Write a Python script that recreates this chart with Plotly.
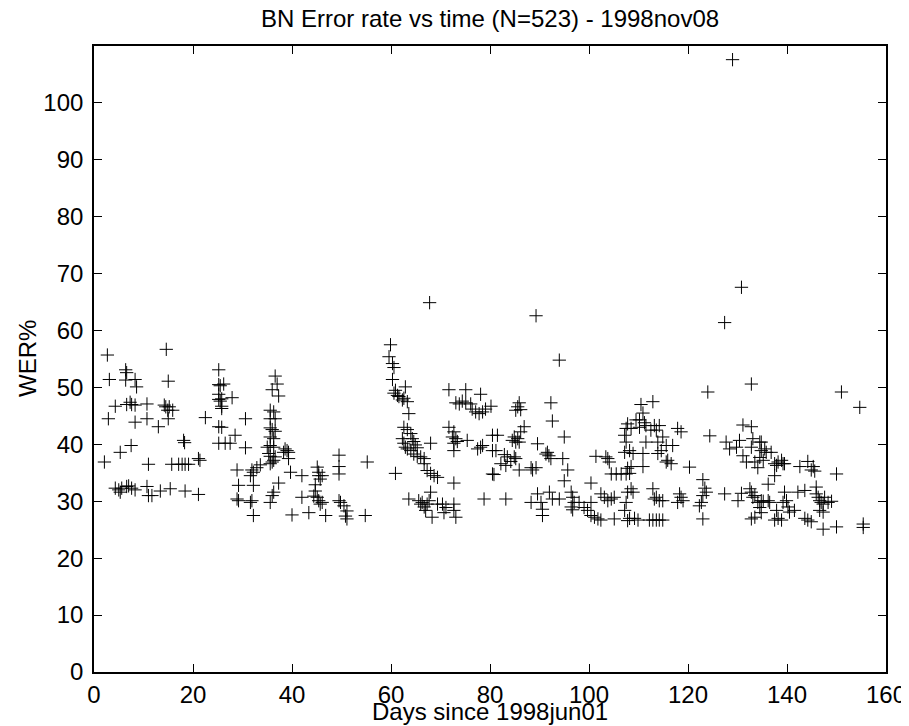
import plotly.graph_objects as go

pts = [
# 0-25 days
(2.7,55.7),(14.6,56.7),(6.4,53.1),(6.6,52.6),(3.1,51.4),(6.4,51.3),(8.3,51.4),(8.6,50.1),(15.0,51.1),
(4.3,46.7),(6.6,47.0),(7.3,47.4),(7.6,47.0),(8.3,46.9),(10.7,47.1),(14.5,46.6),(15.2,46.6),(14.9,46.0),(15.9,46.0),(14.2,46.9),
(2.9,44.5),(8.3,43.9),(10.7,44.5),(13.0,43.1),(15.0,44.5),(22.5,44.7),
(25.2,53.1),(25.2,50.5),(25.5,50.3),(25.2,48.8),(25.5,47.6),(25.8,46.7),(25.2,47.9),(25.2,43.1),(25.2,40.2),
(5.3,38.6),(7.5,39.8),(2.1,36.9),(11.0,36.5),(18.1,40.7),(18.3,40.3),
(15.7,36.5),(17.1,36.5),(17.8,36.5),(18.4,36.5),(19.1,36.5),(21.1,37.5),(21.4,37.2),
(4.3,32.3),(5.0,32.0),(5.6,32.3),(6.6,32.6),(7.0,32.7),(7.6,32.3),(8.3,32.0),(5.3,31.6),
(10.7,32.6),(11.0,31.0),(11.7,31.0),(13.4,31.8),(15.4,32.2),(18.4,31.8),(21.1,31.2),
# 25-52 days
(26.2,50.6),(27.9,48.2),(25.8,48.0),(25.8,46.3),(30.6,44.5),(25.8,43.0),(28.5,41.6),(26.5,40.2),(27.5,40.2),(30.6,39.4),
(36.6,52.0),(37.0,50.6),(36.0,49.6),(37.3,48.5),(35.6,46.0),(36.3,45.7),(35.6,44.5),(36.6,44.5),(35.6,42.9),(36.0,42.6),(36.6,42.3),(35.6,41.3),(36.3,41.0),
(35.0,39.5),(35.6,39.8),(36.3,39.5),(35.3,38.4),(35.6,37.9),(36.6,37.8),(38.6,39.2),(39.0,38.9),(39.3,38.6),(38.3,38.6),(39.3,37.5),
(35.6,36.6),(36.0,36.9),(36.3,37.2),(39.7,35.1),(28.9,35.5),(31.9,35.5),(32.2,35.1),(32.9,35.9),(33.6,36.4),(31.6,34.5),
(42.0,34.5),(45.1,36.0),(45.4,35.1),(45.4,34.5),(45.7,33.9),(46.1,34.5),(49.5,38.1),(49.5,36.1),(49.5,34.8),
(29.2,32.8),(32.2,32.8),(37.3,33.2),(28.9,30.4),(29.2,30.1),(31.6,29.8),(31.9,30.1),(36.3,31.6),(36.0,31.0),(35.6,29.8),
(42.0,30.7),(44.7,31.8),(45.1,30.7),(45.4,30.1),(45.7,29.5),(44.4,30.9),(46.1,29.8),(44.7,32.9),
(49.5,30.1),(49.8,29.8),(50.5,29.2),(51.1,28.3),(50.8,27.4),(32.2,27.5),(40.0,27.6),(43.4,28.0),(46.8,27.5),(51.1,26.9),
# 54-81 days
(55.2,36.9),(54.8,27.5),(59.9,57.5),(59.6,55.4),(60.3,54.2),(60.6,53.5),(60.3,51.4),(60.9,49.5),(60.6,49.0),(61.3,48.6),(61.6,48.4),(62.6,48.1),(63.3,47.5),(62.3,47.8),(62.9,50.1),(63.6,45.4),(60.9,34.9),
(62.6,43.0),(63.3,42.6),(64.0,41.9),(62.3,41.0),(62.6,40.2),(62.9,39.5),(63.3,39.2),(64.3,41.0),(64.6,40.5),(64.9,39.9),(65.3,39.4),(64.0,38.9),(64.6,38.3),(65.3,37.9),(66.0,37.8),(66.7,37.5),(66.7,36.6),(68.0,40.2),
(67.3,35.4),(68.0,34.9),(68.7,34.5),(69.4,34.2),(72.7,33.2),
(63.6,30.4),(65.6,30.1),(66.0,29.5),(66.3,29.8),(66.7,29.0),(67.0,28.4),(67.3,29.5),(67.7,30.1),(68.0,31.6),
(68.3,27.2),(69.4,29.5),(70.4,29.5),(70.7,28.0),(71.1,28.9),(72.7,29.5),(72.7,28.4),(73.1,27.2),
(71.7,49.6),(75.1,49.6),(78.1,48.8),(73.1,47.3),(73.8,47.1),(74.4,47.6),(75.1,47.3),(76.1,47.1),(76.4,46.2),(77.1,45.7),(77.8,45.4),(78.5,45.7),(79.1,46.2),
(71.7,43.0),(72.7,42.2),(72.4,41.3),(73.1,41.0),(72.7,40.2),(73.4,40.5),(75.4,40.7),(72.7,38.9),(77.5,39.2),(78.1,39.5),(78.5,39.8),(78.8,30.4),(80.5,38.9),(80.5,34.8),(80.5,41.6),
(67.8,64.9),
# 80-108 days
(89.3,62.6),(94.0,54.8),(80.2,46.7),(85.9,47.3),(85.6,46.6),(86.2,46.1),(85.2,46.0),(92.3,47.3),(92.6,44.1),(86.9,43.1),(86.2,42.2),(81.5,41.6),
(84.9,41.3),(85.6,41.0),(85.9,40.4),(85.2,40.4),(84.5,40.7),(89.6,40.1),(95.0,41.3),(81.2,38.9),
(82.9,38.2),(83.5,37.8),(84.9,37.8),(85.2,37.5),(82.2,36.6),(83.2,36.3),(84.2,37.0),
(91.6,38.6),(91.9,38.0),(92.3,37.5),(91.3,38.3),(94.7,37.5),(85.9,35.5),(88.3,35.9),(88.6,35.5),(89.3,35.9),(95.7,35.5),(95.0,33.6),(80.8,34.7),
(83.2,30.4),(88.3,29.8),(89.6,31.3),(90.3,29.8),(90.6,28.6),(90.6,27.5),(92.0,31.6),(92.6,30.4),(94.0,30.4),
(96.4,31.6),(96.7,30.7),(97.0,29.8),(96.4,29.0),(96.7,28.5),(98.0,29.8),(99.0,28.9),(99.7,28.4),(100.4,27.5),(100.4,29.8),(100.4,33.2),(101.4,37.9),
(102.4,31.3),(103.1,30.7),(103.8,30.1),(104.5,30.4),(105.1,30.7),(101.1,27.2),(101.8,26.9),(102.4,26.7),(105.1,26.9),
(103.4,37.8),(103.8,37.5),(104.1,36.9),(104.5,34.8),(105.5,34.8),(106.5,34.8),(107.5,34.8),(107.2,41.6),(107.5,42.8),(107.8,43.6),(107.2,38.6),(107.8,31.6),(107.5,29.8),(107.2,28.4),(107.8,26.6),
# 107-135 days
(127.4,61.4),(132.8,50.6),(124.0,49.2),(112.9,47.5),(110.5,47.0),(110.9,45.5),(110.2,44.3),(111.2,43.8),(109.5,44.3),
(108.5,42.8),(110.2,43.0),(111.5,43.3),(113.2,43.3),(114.2,43.3),(112.5,42.5),(113.6,42.5),
(114.9,41.3),(113.9,40.4),(115.6,39.8),(116.9,39.8),(117.9,42.8),(118.6,42.2),
(107.5,40.4),(108.2,38.9),(108.9,38.4),(110.9,38.4),(111.5,40.4),
(113.9,38.4),(114.6,38.9),(115.9,37.2),(116.6,36.6),(115.6,36.9),(124.4,41.5),(120.3,36.0),
(107.8,35.8),(108.2,34.9),(108.5,36.1),(110.9,36.1),
(131.1,43.4),(132.8,43.1),(133.1,41.0),(127.7,40.4),(128.4,39.2),(130.4,40.7),(129.8,39.5),(131.1,38.0),(131.8,36.9),(134.5,40.4),(134.8,38.9),(134.5,37.7),(134.1,35.9),(133.5,36.9),(132.8,39.5),(135.2,37.2),
(108.5,32.2),(108.9,31.6),(112.9,32.2),(113.6,30.7),(114.2,30.1),(114.9,30.1),(113.2,30.4),
(118.3,31.3),(118.6,30.7),(119.0,30.1),(117.9,29.8),
(123.0,33.8),(123.4,32.3),(123.7,31.6),(123.0,31.0),(122.7,29.8),(122.3,29.2),
(127.4,31.3),(130.8,31.4),(130.1,30.1),
(132.5,32.2),(132.8,31.6),(133.1,30.7),(133.5,31.0),(134.1,29.8),(134.5,28.9),(134.8,28.0),(135.2,30.0),
(108.2,27.0),(109.2,27.0),(109.9,26.7),(112.2,26.7),(112.9,26.7),(113.6,26.7),(114.2,26.7),(114.9,26.7),(123.0,26.9),(132.8,26.9),(133.5,27.2),
(130.8,67.6),(129.0,107.6),
# 134-156 days
(151.0,49.2),(154.7,46.5),(150.0,34.8),
(144.2,37.0),(142.6,36.1),(144.9,35.5),(145.6,35.3),(145.3,36.1),
(134.8,40.4),(135.5,39.2),(135.8,38.6),(136.8,38.6),(137.5,36.6),(138.2,36.9),(138.9,37.2),(139.2,36.6),(137.9,36.3),(139.5,36.6),
(137.5,34.5),(136.2,33.0),
(134.8,30.1),(136.2,30.1),(136.5,29.8),(137.9,28.4),(139.2,29.8),(139.9,30.1),(140.2,29.0),(140.5,28.1),(139.5,31.6),(141.5,28.4),(142.2,31.6),(143.6,31.9),
(138.2,27.0),(137.5,26.7),(138.9,26.7),
(143.6,27.0),(144.2,26.7),(144.9,26.4),
(145.9,31.3),(146.3,30.7),(146.6,30.1),(146.9,29.8),(147.3,29.5),(147.6,30.7),(148.3,29.8),(146.6,28.4),(147.3,28.1),(145.9,32.5),
(147.3,25.1),(150.0,25.5),(155.4,26.0),(155.4,25.4),(149.0,30.0),
]

days = [p[0] for p in pts]
wer = [p[1] for p in pts]

x_ticks = [0, 20, 40, 60, 80, 100, 120, 140, 160]
y_ticks = [0, 10, 20, 30, 40, 50, 60, 70, 80, 90, 100]

FONT = "Liberation Sans, Arial, Helvetica, sans-serif"
FS = 24

fig = go.Figure()
fig.add_trace(go.Scatter(
    x=days, y=wer, mode="markers",
    marker=dict(symbol="cross-thin-open", size=9.5, color="black",
                line=dict(color="black", width=1)),
    showlegend=False, hoverinfo="x+y",
))

axis_common = dict(
    showline=True, linecolor="black", linewidth=1.6, mirror="ticks",
    ticks="inside", ticklen=8, tickwidth=1, tickcolor="black",
    showgrid=False, zeroline=False, automargin=False,
    tickfont=dict(family=FONT, size=FS, color="black"),
)

# the page body adds an 8px offset, so margins are compensated
fig.update_layout(
    template="none",
    width=909, height=726,
    margin=dict(l=86, r=31, t=38, b=62, autoexpand=False),
    paper_bgcolor="white", plot_bgcolor="white",
    font=dict(family=FONT, size=FS, color="black"),
    title=dict(text="BN Error rate vs time (N=523) - 1998nov08",
               x=0.5, xref="paper", xanchor="center",
               y=1 - 11 / 726, yref="container", yanchor="middle",
               automargin=False,
               font=dict(family=FONT, size=FS, color="black")),
    xaxis=dict(range=[0, 160], tickvals=x_ticks, ticktext=[str(v) for v in x_ticks], **axis_common),
    yaxis=dict(range=[0, 110], tickvals=y_ticks, ticktext=[str(v) for v in y_ticks],
               ticklabelstandoff=4, **axis_common),
    annotations=[
        dict(text="Days since 1998jun01", x=0.5, y=0, xref="paper", yref="paper",
             xanchor="center", yanchor="middle", yshift=-39, showarrow=False,
             font=dict(family=FONT, size=FS, color="black")),
        dict(text="WER%", x=0, y=0.5, xref="paper", yref="paper",
             xanchor="center", yanchor="middle", xshift=-67, textangle=-90, showarrow=False,
             font=dict(family=FONT, size=FS, color="black")),
    ],
)

fig.write_html("out.html")
